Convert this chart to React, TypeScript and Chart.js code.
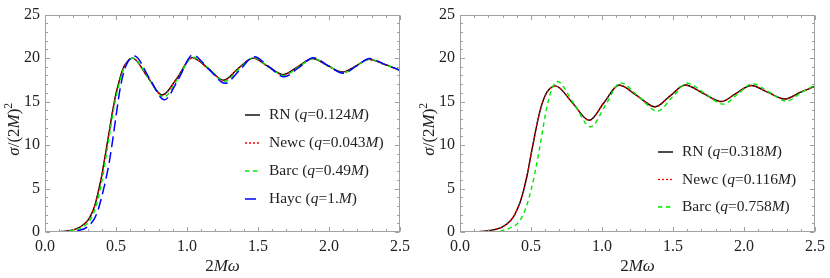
import React, { useEffect, useRef } from "react";
import { Chart, registerables } from "chart.js";
Chart.register(...registerables);

// ---------- data: left panel ----------
const rnLeftX = [0, 0.05, 0.1, 0.15, 0.2, 0.25, 0.3, 0.325, 0.35, 0.375, 0.4, 0.425, 0.45, 0.475, 0.5, 0.525, 0.55, 0.575, 0.617, 0.72, 0.826, 0.93, 1.036, 1.15, 1.257, 1.36, 1.466, 1.57, 1.676, 1.78, 1.885, 1.99, 2.095, 2.19, 2.28, 2.39, 2.5];
const rnLeftY = [0, 0.01, 0.03, 0.1, 0.25, 0.6, 1.3, 2.0, 3.0, 4.6, 6.5, 8.9, 11.3, 13.8, 15.9, 17.5, 18.8, 19.5, 20.0, 17.9, 15.75, 17.7, 20.05, 18.8, 17.45, 18.8, 20.0, 19.05, 18.1, 19.0, 19.95, 19.15, 18.4, 19.1, 19.85, 19.3, 18.6];
const newcLeftY = [0, 0.01, 0.03, 0.1, 0.26, 0.6, 1.3, 2.0, 3.0, 4.6, 6.5, 8.9, 11.3, 13.8, 15.9, 17.5, 18.8, 19.5, 19.98, 17.9, 15.7, 17.7, 20.0, 18.8, 17.4, 18.8, 19.98, 19.0, 18.05, 19.0, 19.93, 19.1, 18.38, 19.1, 19.83, 19.25, 18.6];
const barcLeftX = [0, 0.05, 0.1, 0.15, 0.2, 0.25, 0.3, 0.325, 0.35, 0.375, 0.4, 0.425, 0.45, 0.475, 0.5, 0.525, 0.55, 0.575, 0.62, 0.725, 0.835, 0.935, 1.04, 1.155, 1.262, 1.365, 1.47, 1.575, 1.68, 1.785, 1.89, 1.995, 2.1, 2.195, 2.285, 2.395, 2.5];
const barcLeftY = [0, 0, 0.02, 0.07, 0.2, 0.45, 1.0, 1.6, 2.5, 3.9, 5.8, 8.2, 10.7, 13.3, 15.5, 17.2, 18.6, 19.4, 20.0, 17.8, 15.5, 17.6, 20.1, 18.8, 17.3, 18.7, 20.05, 19.0, 18.0, 18.95, 19.95, 19.1, 18.3, 19.1, 19.85, 19.25, 18.6];
const haycLeftX = [0, 0.1, 0.15, 0.2, 0.25, 0.3, 0.325, 0.35, 0.375, 0.4, 0.425, 0.45, 0.475, 0.5, 0.525, 0.55, 0.575, 0.6, 0.63, 0.735, 0.84, 0.94, 1.04, 1.155, 1.268, 1.37, 1.473, 1.578, 1.683, 1.787, 1.89, 1.995, 2.1, 2.195, 2.285, 2.395, 2.5];
const haycLeftY = [0, 0, 0.02, 0.08, 0.22, 0.6, 1.0, 1.6, 2.6, 4.1, 5.8, 7.8, 10.4, 13.3, 16.1, 18.1, 19.3, 19.95, 20.25, 17.7, 15.2, 17.6, 20.35, 18.7, 17.1, 18.6, 20.15, 19.0, 17.85, 18.9, 20.05, 19.1, 18.25, 19.1, 19.95, 19.25, 18.6];

// ---------- data: right panel ----------
const rnRightX = [0, 0.05, 0.1, 0.15, 0.2, 0.25, 0.3, 0.35, 0.375, 0.4, 0.425, 0.45, 0.475, 0.5, 0.525, 0.55, 0.575, 0.6, 0.625, 0.672, 0.79, 0.91, 1.015, 1.12, 1.248, 1.375, 1.48, 1.585, 1.712, 1.84, 1.945, 2.05, 2.17, 2.29, 2.395, 2.5];
const rnRightY = [0, 0, 0.02, 0.06, 0.15, 0.3, 0.6, 1.2, 1.7, 2.5, 3.5, 4.9, 6.7, 8.9, 11.0, 13.0, 14.6, 15.7, 16.35, 16.8, 14.9, 12.85, 14.9, 16.9, 15.65, 14.4, 15.65, 16.9, 15.95, 15.0, 15.95, 16.85, 16.05, 15.3, 16.05, 16.75];
const newcRightY = [0, 0, 0.02, 0.06, 0.15, 0.3, 0.6, 1.2, 1.7, 2.5, 3.5, 4.9, 6.7, 8.9, 11.0, 13.0, 14.6, 15.7, 16.35, 16.78, 14.9, 12.83, 14.9, 16.88, 15.65, 14.38, 15.65, 16.88, 15.95, 14.98, 15.95, 16.83, 16.05, 15.28, 16.05, 16.75];
const barcRightX = [0, 0.1, 0.2, 0.25, 0.3, 0.35, 0.4, 0.425, 0.45, 0.475, 0.5, 0.525, 0.55, 0.575, 0.6, 0.625, 0.65, 0.685, 0.8, 0.92, 1.025, 1.13, 1.26, 1.39, 1.495, 1.6, 1.727, 1.855, 1.958, 2.06, 2.18, 2.3, 2.4, 2.5];
const barcRightY = [0, 0, 0.02, 0.06, 0.15, 0.45, 0.9, 1.4, 2.2, 3.3, 4.8, 6.6, 8.7, 11.0, 13.4, 15.3, 16.6, 17.3, 14.8, 12.1, 14.6, 17.15, 15.55, 13.9, 15.5, 17.1, 15.9, 14.7, 15.9, 17.05, 16.05, 15.05, 16.0, 16.9];

const xTickValues = [0, 0.5, 1.0, 1.5, 2.0, 2.5];
const yTickValues = [0, 5, 10, 15, 20, 25];

const leftLegendNames = ["RN", "Newc", "Barc", "Hayc"];
const leftLegendQ = ["0.124", "0.043", "0.49", "1."];
const rightLegendNames = ["RN", "Newc", "Barc"];
const rightLegendQ = ["0.318", "0.116", "0.758"];

// ---------- styles ----------
const FONT = "'Liberation Serif', 'Times New Roman', serif";
const TICK_SIZE = 16;
const LEGEND_SIZE = 15.5;
const TITLE_SIZE = 17;
const STYLE: Record<string, { color: string; dash: number[]; width: number; order: number }> = {
  RN: { color: "#000000", dash: [], width: 1.4, order: 4 },
  Newc: { color: "#ff0000", dash: [2, 2], width: 1.3, order: 3 },
  Barc: { color: "rgb(0,235,0)", dash: [4.5, 3.5], width: 1.4, order: 2 },
  Hayc: { color: "#0000ff", dash: [11, 5], width: 1.5, order: 1 },
};

type Part = [string, boolean, boolean?];

function drawRich(ctx: CanvasRenderingContext2D, parts: Part[], x: number, y: number, size: number) {
  let cx = x;
  for (const [t, it, sup] of parts) {
    const fs = sup ? size * 0.68 : size;
    ctx.font = `${it ? "italic " : ""}${fs}px ${FONT}`;
    ctx.fillText(t, cx, sup ? y - size * 0.38 : y);
    cx += ctx.measureText(t).width;
  }
}
function richWidth(ctx: CanvasRenderingContext2D, parts: Part[], size: number) {
  let w = 0;
  for (const [t, it, sup] of parts) {
    const fs = sup ? size * 0.68 : size;
    ctx.font = `${it ? "italic " : ""}${fs}px ${FONT}`;
    w += ctx.measureText(t).width;
  }
  return w;
}

function makeDataset(name: string, xs: number[], ys: number[]) {
  const s = STYLE[name];
  return {
    label: name,
    data: xs.map((v, i) => ({ x: v, y: ys[i] })),
    borderColor: s.color,
    borderWidth: s.width,
    borderDash: s.dash,
    pointRadius: 0,
    fill: false,
    cubicInterpolationMode: "monotone" as const,
    order: s.order,
  };
}

const framePlugin = {
  id: "frameTicks",
  afterDraw(chart: any, _args: any, opts: any) {
    const { ctx, chartArea, scales } = chart;
    const { left, right, top, bottom } = chartArea;
    const xs = scales.x;
    const ys = scales.y;
    ctx.save();
    ctx.strokeStyle = "#a0a0a0";
    ctx.lineWidth = 1;
    const L = Math.round(left) + 0.5;
    const R = Math.round(right) - 0.5;
    const T = Math.round(top) + 0.5;
    const B = Math.round(bottom) - 0.5;
    ctx.strokeRect(L, T, R - L, B - T);
    ctx.beginPath();
    for (let i = 0; i <= 25; i++) {
      const v = i / 10;
      const px = Math.round(xs.getPixelForValue(v)) + 0.5;
      const len = i % 5 === 0 ? 4.5 : 2.5;
      ctx.moveTo(px, B);
      ctx.lineTo(px, B - len);
      ctx.moveTo(px, T);
      ctx.lineTo(px, T + len);
    }
    for (let i = 0; i <= 25; i++) {
      const py = Math.round(ys.getPixelForValue(i)) + 0.5;
      const len = i % 5 === 0 ? 4.5 : 2.5;
      ctx.moveTo(L, py);
      ctx.lineTo(L + len, py);
      ctx.moveTo(R, py);
      ctx.lineTo(R - len, py);
    }
    ctx.stroke();

    // axis titles
    ctx.fillStyle = "#222";
    ctx.textBaseline = "middle";
    const xt: Part[] = [["2", false], ["M", true], ["ω", true]];
    const xw = richWidth(ctx, xt, TITLE_SIZE);
    drawRich(ctx, xt, (left + right) / 2 - xw / 2, 267, TITLE_SIZE);
    const yt: Part[] = [["σ", true], ["/(2", false], ["M", true], [")", false], ["2", false, true]];
    const yw = richWidth(ctx, yt, TITLE_SIZE);
    ctx.save();
    ctx.translate(15, (top + bottom) / 2 + 6);
    ctx.rotate(-Math.PI / 2);
    drawRich(ctx, yt, -yw / 2, 0, TITLE_SIZE);
    ctx.restore();

    // legend
    const lg = opts.legend;
    lg.names.forEach((name: string, i: number) => {
      const s = STYLE[name];
      const y = lg.y0 + i * lg.dy;
      ctx.save();
      ctx.strokeStyle = s.color;
      ctx.lineWidth = s.width;
      ctx.setLineDash(s.dash);
      ctx.beginPath();
      ctx.moveTo(lg.x0, y);
      ctx.lineTo(lg.x0 + 15, y);
      ctx.stroke();
      ctx.restore();
      ctx.fillStyle = "#222";
      drawRich(ctx, [[name + " (", false], ["q", true], ["=" + lg.q[i], false], ["M", true], [")", false]], lg.x0 + 24, y, LEGEND_SIZE);
    });
    ctx.restore();
  },
};

function makeConfig(datasets: any[], padRight: number, legend: any) {
  return {
    type: "line" as const,
    data: { datasets },
    options: {
      responsive: false,
      animation: false as const,
      devicePixelRatio: 1,
      layout: { padding: { top: 10, right: padRight, left: 0, bottom: 0 } },
      plugins: {
        legend: { display: false },
        tooltip: { enabled: false },
        frameTicks: { legend },
      },
      scales: {
        x: {
          type: "linear" as const,
          min: 0,
          max: 2.5,
          afterFit(s: any) { s.height = 46; },
          afterBuildTicks(s: any) { s.ticks = xTickValues.map((v) => ({ value: v })); },
          ticks: {
            callback: (v: any) => Number(v).toFixed(1),
            font: { family: FONT, size: TICK_SIZE },
            color: "#222",
            padding: 5,
            maxRotation: 0,
            autoSkip: false,
          },
          grid: { display: false, drawTicks: false },
          border: { display: false },
        },
        y: {
          type: "linear" as const,
          min: 0,
          max: 25,
          afterFit(s: any) { s.width = 45; },
          afterBuildTicks(s: any) { s.ticks = yTickValues.map((v) => ({ value: v })); },
          ticks: {
            font: { family: FONT, size: TICK_SIZE },
            color: "#222",
            padding: 5,
          },
          grid: { display: false, drawTicks: false },
          border: { display: false },
        },
      },
    },
    plugins: [framePlugin],
  };
}

export default function App() {
  const leftRef = useRef<HTMLCanvasElement>(null);
  const rightRef = useRef<HTMLCanvasElement>(null);
  useEffect(() => {
    const left = new Chart(
      leftRef.current!,
      makeConfig(
        [
          makeDataset("RN", rnLeftX, rnLeftY),
          makeDataset("Newc", rnLeftX, newcLeftY),
          makeDataset("Barc", barcLeftX, barcLeftY),
          makeDataset("Hayc", haycLeftX, haycLeftY),
        ],
        12,
        { names: leftLegendNames, q: leftLegendQ, x0: 245, y0: 115, dy: 28 }
      ) as any
    );
    const right = new Chart(
      rightRef.current!,
      makeConfig(
        [
          makeDataset("RN", rnRightX, rnRightY),
          makeDataset("Newc", rnRightX, newcRightY),
          makeDataset("Barc", barcRightX, barcRightY),
        ],
        11,
        { names: rightLegendNames, q: rightLegendQ, x0: 243, y0: 152, dy: 27.5 }
      ) as any
    );
    return () => {
      left.destroy();
      right.destroy();
    };
  }, []);
  return (
    <div style={{ position: "absolute", left: 0, top: 0, width: 830, height: 278, display: "flex", background: "#fff" }}>
      <canvas ref={leftRef} width={415} height={278} style={{ display: "block", width: 415, height: 278 }} />
      <canvas ref={rightRef} width={415} height={278} style={{ display: "block", width: 415, height: 278 }} />
    </div>
  );
}
